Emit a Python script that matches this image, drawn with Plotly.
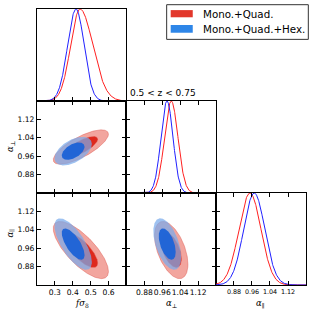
import numpy as np
import plotly.graph_objects as go

# ---------------- data ----------------
params = ["fσ8", "α⊥", "α∥"]
ranges = [[0.2, 0.7], [0.8, 1.2], [0.8, 1.2]]
tick_vals = [[0.3, 0.4, 0.5, 0.6], [0.88, 0.96, 1.04, 1.12], [0.88, 0.96, 1.04, 1.12]]
tick_text = [["0.3", "0.4", "0.5", "0.6"], ["0.88", "0.96", "1.04", "1.12"], ["0.88", "0.96", "1.04", "1.12"]]

series_names = ["Mono.+Quad.", "Mono.+Quad.+Hex."]

# 1D marginals: peak position, left / right widths
red_peak = [0.440, 1.000, 0.951]
red_sig_left = [0.052, 0.030, 0.049]
red_sig_right = [0.072, 0.030, 0.049]
blue_peak = [0.418, 0.981, 0.970]
blue_sig_left = [0.047, 0.027, 0.047]
blue_sig_right = [0.045, 0.027, 0.047]

# 2D contours: centre, widths, correlations (pairs (0,1), (0,2), (1,2))
red_mean = [0.445, 1.000, 0.952]
red_sigma = [0.062, 0.030, 0.050]
red_corr = [0.75, -0.75, -0.50]
blue_mean = [0.402, 0.982, 0.978]
blue_sigma = [0.042, 0.025, 0.045]
blue_corr = [0.50, -0.70, -0.50]

levels = [6.18, 2.30]  # 95% and 68% (delta chi^2)

title_text = "0.5 < z < 0.75"

# ---------------- styles ----------------
red_line = "#ff2020"
blue_line = "#2020ff"
red_fill = ["rgb(242,165,158)", "rgb(222,40,28)"]
blue_fill = ["rgba(120,170,235,0.72)", "rgba(30,100,215,0.97)"]
legend_red = "#e2372b"
legend_blue = "#2e86e8"

fig = go.Figure()

# domains
c = [[0.0, 0.3327], [0.3327, 0.6654], [0.6654, 1.0]]
r = [[2 / 3, 1.0], [1 / 3, 2 / 3], [0.0, 1 / 3]]

# panels: (axis index, row, col, kind, i, j)
panels = [
    (1, 0, 0, "1d", 0, None),
    (2, 1, 0, "2d", 0, 1),
    (3, 1, 1, "1d", 1, None),
    (4, 2, 0, "2d", 0, 2),
    (5, 2, 1, "2d", 1, 2),
    (6, 2, 2, "1d", 2, None),
]
pair_index = {(0, 1): 0, (0, 2): 1, (1, 2): 2}

t = np.linspace(0, 2 * np.pi, 200)


def marginal(xs, peak, sl, sr):
    s = np.where(xs < peak, sl, sr)
    return np.exp(-0.5 * ((xs - peak) / s) ** 2)


def ellipse(mean, sigma, rho, i, j, lev):
    rr = np.sqrt(lev)
    x = mean[i] + sigma[i] * rr * np.cos(t)
    y = mean[j] + sigma[j] * rr * (rho * np.cos(t) + np.sqrt(1 - rho ** 2) * np.sin(t))
    return x, y


tick_font = dict(family="DejaVu Sans", size=7.6, color="black")
small_tick_font = dict(family="DejaVu Sans", size=6.4, color="black")

for (k, row, col, kind, i, j) in panels:
    xa = "x" if k == 1 else f"x{k}"
    ya = "y" if k == 1 else f"y{k}"
    if kind == "1d":
        xs = np.linspace(ranges[i][0], ranges[i][1], 400)
        fig.add_trace(go.Scatter(x=xs, y=marginal(xs, red_peak[i], red_sig_left[i], red_sig_right[i]),
                                 mode="lines", line=dict(color=red_line, width=1), xaxis=xa, yaxis=ya,
                                 showlegend=False, hoverinfo="skip"))
        fig.add_trace(go.Scatter(x=xs, y=marginal(xs, blue_peak[i], blue_sig_left[i], blue_sig_right[i]),
                                 mode="lines", line=dict(color=blue_line, width=1), xaxis=xa, yaxis=ya,
                                 showlegend=False, hoverinfo="skip"))
    else:
        p = pair_index[(i, j)]
        for mean, sigma, corr, fills, edge in [
            (red_mean, red_sigma, red_corr, red_fill, "rgba(220,80,70,0.7)"),
            (blue_mean, blue_sigma, blue_corr, blue_fill, "rgba(120,170,235,0.0)"),
        ]:
            for lev, fc in zip(levels, fills):
                ex, ey = ellipse(mean, sigma, corr[p], i, j, lev)
                fig.add_trace(go.Scatter(x=ex, y=ey, mode="lines", fill="toself", fillcolor=fc,
                                         line=dict(color=edge, width=0.6), xaxis=xa, yaxis=ya,
                                         showlegend=False, hoverinfo="skip"))

    show_x_labels = row == 2
    show_y_labels = (col == 0 and row > 0)
    xfont = small_tick_font if col == 2 else tick_font
    xkey = "xaxis" if k == 1 else f"xaxis{k}"
    ykey = "yaxis" if k == 1 else f"yaxis{k}"
    xmirror = True if k == 1 else "ticks"
    fig.update_layout({
        xkey: dict(domain=c[col], anchor=ya, range=ranges[i], tickvals=tick_vals[i], ticktext=tick_text[i],
                   showticklabels=show_x_labels, ticks="inside", ticklen=4, tickwidth=1, tickcolor="black",
                   showline=True, linecolor="black", linewidth=1, mirror=xmirror, showgrid=False,
                   zeroline=False, tickangle=0, tickfont=xfont, fixedrange=True, automargin=False),
    })
    if kind == "1d":
        if k == 1:
            yd = dict(tickvals=[], ticks="")
        else:
            yd = dict(tickvals=[0.2, 0.4, 0.6, 0.8], ticks="inside")
        fig.update_layout({
            ykey: dict(domain=r[row], anchor=xa, range=[0, 1.0], showticklabels=False,
                       ticklen=4, tickwidth=1, tickcolor="black", showline=True, linecolor="black",
                       linewidth=1, mirror=True, showgrid=False, zeroline=False, fixedrange=True,
                       automargin=False, **yd),
        })
    else:
        fig.update_layout({
            ykey: dict(domain=r[row], anchor=xa, range=ranges[j], tickvals=tick_vals[j], ticktext=tick_text[j],
                       showticklabels=show_y_labels, ticks="inside", ticklen=4, tickwidth=1,
                       tickcolor="black", showline=True, linecolor="black", linewidth=1, mirror="ticks",
                       showgrid=False, zeroline=False, tickfont=tick_font, fixedrange=True,
                       automargin=False),
        })

# axis titles
lab_font = dict(family="DejaVu Serif", size=8.5, color="black")
x_labels = ["<i>fσ</i><sub>8</sub>", "<i>α</i><sub>⊥</sub>", "<i>α</i><sub>∥</sub>"]
for col in range(3):
    fig.add_annotation(x=(c[col][0] + c[col][1]) / 2, y=-0.068, xref="paper", yref="paper",
                       text=x_labels[col], showarrow=False, font=lab_font, yanchor="middle", xanchor="center")
for row, lab in [(1, x_labels[1]), (2, x_labels[2])]:
    fig.add_annotation(x=-0.1, y=(r[row][0] + r[row][1]) / 2 + (0.0 if row == 1 else 0.02),
                       xref="paper", yref="paper", text=lab, showarrow=False, font=lab_font,
                       textangle=-90, xanchor="center", yanchor="middle")

# redshift title
fig.add_annotation(x=0.338, y=0.694, xref="paper", yref="paper", text=title_text, showarrow=False,
                   font=dict(family="DejaVu Sans", size=9, color="black"), xanchor="left", yanchor="middle")

# legend (drawn)
fig.add_shape(type="rect", xref="paper", yref="paper", x0=0.482, x1=1.0086, y0=0.890, y1=1.0156,
              line=dict(color="#333333", width=1), fillcolor="white")
for name, colr, y0, y1, yc in [(series_names[0], legend_red, 0.970, 0.996, 0.982),
                               (series_names[1], legend_blue, 0.914, 0.942, 0.928)]:
    fig.add_shape(type="rect", xref="paper", yref="paper", x0=0.497, x1=0.579, y0=y0, y1=y1,
                  line=dict(width=0), fillcolor=colr)
    fig.add_annotation(x=0.6097, y=yc, xref="paper", yref="paper", text=name, showarrow=False,
                       font=dict(family="DejaVu Sans", size=10.3, color="black"),
                       xanchor="left", yanchor="middle")

fig.update_layout(width=315, height=316, margin=dict(l=37, r=9, t=9, b=31, autoexpand=False),
                  paper_bgcolor="white", plot_bgcolor="white", showlegend=False)

fig.write_html("out.html", config={"displayModeBar": False, "staticPlot": True},
               post_script="document.body.style.margin='0';document.body.style.overflow='hidden';")
